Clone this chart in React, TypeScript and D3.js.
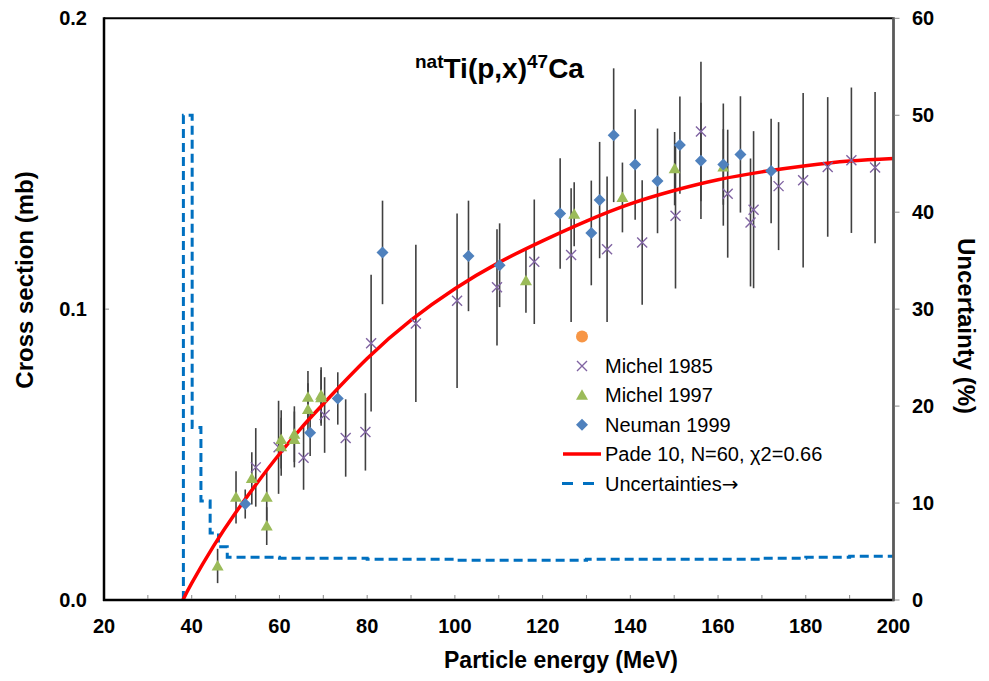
import React from 'react';
import * as d3 from 'd3';

// ---- data ----
const xTicks = [20, 40, 60, 80, 100, 120, 140, 160, 180, 200];
const xMinorTicks = [30, 50, 70, 90, 110, 130, 150, 170, 190];
const yTicks = [0, 0.1, 0.2];
const yTickLabels = ['0.0', '0.1', '0.2'];
const y2Ticks = [0, 10, 20, 30, 40, 50, 60];

// [energy MeV, cross section mb, error mb]
const michel1985: [number, number, number][] = [
  [54.6, 0.0456, 0.0135], [59.8, 0.0525, 0.016], [65.5, 0.0489, 0.011], [70.3, 0.0636, 0.013],
  [75.1, 0.0557, 0.0133], [79.6, 0.0578, 0.0133], [80.9, 0.0883, 0.0235], [91.1, 0.0951, 0.027],
  [100.5, 0.1029, 0.030], [109.6, 0.1075, 0.020], [118.1, 0.1163, 0.0214], [126.5, 0.1186, 0.023],
  [134.7, 0.1206, 0.025], [142.7, 0.1229, 0.0214], [150.3, 0.1321, 0.025], [156.1, 0.1611, 0.024],
  [162.2, 0.1397, 0.022], [167.4, 0.1298, 0.022], [168.1, 0.1342, 0.027], [173.8, 0.1423, 0.022],
  [179.4, 0.1443, 0.030], [185.0, 0.1489, 0.024], [190.4, 0.1512, 0.025], [195.8, 0.1487, 0.026],
];

const michel1997: [number, number, number][] = [
  [45.9, 0.0117, 0.0059], [50.1, 0.0353, 0.009], [53.7, 0.0418, 0.009], [57.1, 0.0353, 0.0088],
  [57.1, 0.0254, 0.0065], [60.4, 0.0552, 0.010], [60.4, 0.0527, 0.010], [63.4, 0.057, 0.0096],
  [63.4, 0.0552, 0.0096], [66.5, 0.0697, 0.009], [66.5, 0.0655, 0.009], [69.5, 0.0704, 0.0096],
  [69.5, 0.0695, 0.0096], [116.2, 0.1098, 0.011], [127.2, 0.1326, 0.011], [138.2, 0.1384, 0.012],
  [150.1, 0.1483, 0.0126], [161.2, 0.1489, 0.013],
];

const neuman1999: [number, number, number][] = [
  [52.2, 0.033, 0.005], [67.0, 0.0575, 0.008], [73.3, 0.0693, 0.009], [83.5, 0.1195, 0.0178],
  [103.1, 0.1183, 0.019], [110.2, 0.1151, 0.0144], [124.0, 0.1329, 0.019], [131.1, 0.1262, 0.018],
  [133.0, 0.1375, 0.020], [136.2, 0.1598, 0.023], [141.1, 0.1497, 0.019], [146.2, 0.1441, 0.018],
  [151.3, 0.1564, 0.0167], [156.1, 0.151, 0.020], [161.2, 0.1497, 0.021], [165.1, 0.1532, 0.020],
  [172.1, 0.1475, 0.018],
];

const padeE = [38, 40, 45, 50, 55, 60, 65, 70, 80, 90, 100, 110, 120, 130, 140, 150, 160, 170, 180, 190, 200];
const padeSigma = [0, 0.0058, 0.0186, 0.0300, 0.0404, 0.0502, 0.0592, 0.0674, 0.0830, 0.0962, 0.1070, 0.1160,
  0.1235, 0.1303, 0.1362, 0.1408, 0.1445, 0.1472, 0.1493, 0.1509, 0.1518];

const uncE = [38.1, 38.1, 40.1, 42.1, 44.2, 46.1, 48.1, 60, 80, 100, 130, 160, 170, 180, 190, 200];
const uncPct = [0, 50, 17.8, 10.2, 6.9, 5.5, 4.4, 4.3, 4.2, 4.1, 4.2, 4.2, 4.3, 4.4, 4.5, 4.5];

const legendLabels = ['', 'Michel 1985', 'Michel 1997', 'Neuman 1999', 'Pade 10, N=60, \u03C72=0.66', 'Uncertainties'];

const FONT = 'Liberation Sans, Arial, Helvetica, sans-serif';
const C_X = '#8064A2';
const C_TRI = '#9BBB59';
const C_DIA = '#4F81BD';
const C_ORANGE = '#F79646';
const C_RED = '#FF0000';
const C_BLUE = '#0070C0';
const C_ERR = '#404040';

const crossPath = 'M-5,-5L5,5M-5,5L5,-5';
const triPath = 'M0,-6L6,4.5L-6,4.5Z';
const diaPath = 'M0,-6L6,0L0,6L-6,0Z';

export default function App() {
  const W = 989, H = 681;
  const x = d3.scaleLinear().domain([20, 200]).range([104, 893.5]);
  const y = d3.scaleLinear().domain([0, 0.2]).range([600, 18.3]);
  const y2 = d3.scaleLinear().domain([0, 60]).range([600, 18.3]);

  const fitLine = d3.line<number>()
    .x((_, i) => x(padeE[i]))
    .y((_, i) => y(padeSigma[i]))
    .curve(d3.curveNatural);
  const uncLine = d3.line<number>()
    .x((_, i) => x(uncE[i]))
    .y((_, i) => y2(uncPct[i]))
    .curve(d3.curveStepAfter);

  const allSeries = [michel1985, michel1997, neuman1999];
  const x0 = x(20), x1 = x(200), yb = y(0), yt = y(0.2);

  const legendX = 582;
  const legendY0 = 336.5;
  const legendDY = 29.4;

  return (
    <svg width={W} height={H} style={{ position: 'absolute', left: 0, top: 0, background: '#fff' }}
      fontFamily={FONT}>
      <rect x={0} y={0} width={W} height={H} fill="#fff" />

      {/* error bars */}
      {allSeries.map((s, si) => (
        <g key={'eb' + si}>
          {s.map((d, i) => (
            <line key={i} x1={x(d[0])} x2={x(d[0])} y1={y(d[1] - d[2])} y2={y(d[1] + d[2])}
              stroke={C_ERR} strokeWidth={1.6} />
          ))}
        </g>
      ))}

      {/* uncertainty dashed line */}
      <path d={uncLine(uncE) || ''} fill="none" stroke={C_BLUE} strokeWidth={3} strokeDasharray="9 5" />

      {/* fit line */}
      <path d={fitLine(padeE) || ''} fill="none" stroke={C_RED} strokeWidth={3.5} strokeLinejoin="round" />

      {/* markers */}
      {michel1985.map((d, i) => (
        <path key={'x' + i} d={crossPath} transform={`translate(${x(d[0])},${y(d[1])})`}
          fill="none" stroke={C_X} strokeWidth={1.4} />
      ))}
      {michel1997.map((d, i) => (
        <path key={'t' + i} d={triPath} transform={`translate(${x(d[0])},${y(d[1])})`} fill={C_TRI} />
      ))}
      {neuman1999.map((d, i) => (
        <path key={'d' + i} d={diaPath} transform={`translate(${x(d[0])},${y(d[1])})`} fill={C_DIA} />
      ))}

      {/* frame & axes */}
      <line x1={x0} x2={x1} y1={yt} y2={yt} stroke="#000" strokeWidth={2} />
      <line x1={x0} x2={x0} y1={yt - 1} y2={yb + 1} stroke="#000" strokeWidth={2.5} />
      <line x1={x0 - 1} x2={x1 + 1} y1={yb} y2={yb} stroke="#000" strokeWidth={2.5} />
      <line x1={x1} x2={x1} y1={yt - 1} y2={yb + 1} stroke="#5a5a5a" strokeWidth={2.8} />

      {/* x minor ticks (inside) */}
      {xMinorTicks.concat(xTicks.slice(1, -1)).map((t) => (
        <line key={'xm' + t} x1={x(t)} x2={x(t)} y1={yb - 1} y2={yb - 5} stroke="#888" strokeWidth={1} />
      ))}
      {/* left tick at 0.1 */}
      <line x1={x0 + 1} x2={x0 + 5} y1={y(0.1)} y2={y(0.1)} stroke="#888" strokeWidth={1} />
      {/* right ticks outward */}
      {y2Ticks.map((t) => (
        <line key={'rt' + t} x1={x1 + 1} x2={x1 + 6} y1={y2(t)} y2={y2(t)} stroke="#888" strokeWidth={1} />
      ))}

      {/* tick labels */}
      {xTicks.map((t) => (
        <text key={'xl' + t} x={x(t)} y={633} textAnchor="middle" fontSize={20} fontWeight="bold" fill="#000">{t}</text>
      ))}
      {yTicks.map((t, i) => (
        <text key={'yl' + t} x={87} y={y(t) + 7} textAnchor="end" fontSize={20} fontWeight="bold" fill="#000">{yTickLabels[i]}</text>
      ))}
      {y2Ticks.map((t) => (
        <text key={'y2l' + t} x={912} y={y2(t) + 7} textAnchor="start" fontSize={20} fontWeight="bold" fill="#000">{t}</text>
      ))}

      {/* axis titles */}
      <text x={561} y={668} textAnchor="middle" fontSize={23} fontWeight="bold" fill="#000">Particle energy (MeV)</text>
      <text transform="translate(32.5,280) rotate(-90)" textAnchor="middle" fontSize={24} fontWeight="bold" fill="#000">Cross section (mb)</text>
      <text transform="translate(958,326) rotate(90)" textAnchor="middle" fontSize={24} fontWeight="bold" fill="#000">Uncertainty (%)</text>

      {/* chart title */}
      <text x={415} y={78} fontWeight="bold" fill="#000" fontSize={28}>
        <tspan fontSize={19} dy={-10}>nat</tspan>
        <tspan dy={10}>Ti(p,x)</tspan>
        <tspan fontSize={19} dy={-10}>47</tspan>
        <tspan dy={10}>Ca</tspan>
      </text>

      {/* legend */}
      <g>
        <circle cx={legendX} cy={legendY0} r={6} fill={C_ORANGE} />
        <path d={crossPath} transform={`translate(${legendX},${legendY0 + legendDY})`} fill="none" stroke={C_X} strokeWidth={1.4} />
        <path d={triPath} transform={`translate(${legendX},${legendY0 + 2 * legendDY})`} fill={C_TRI} />
        <path d={diaPath} transform={`translate(${legendX},${legendY0 + 3 * legendDY})`} fill={C_DIA} />
        <line x1={563} x2={601} y1={legendY0 + 4 * legendDY} y2={legendY0 + 4 * legendDY} stroke={C_RED} strokeWidth={3.5} />
        <line x1={562} x2={601} y1={legendY0 + 5 * legendDY} y2={legendY0 + 5 * legendDY} stroke={C_BLUE} strokeWidth={3} strokeDasharray="11 10" />
        {legendLabels.map((l, i) => (
          <text key={'lg' + i} x={605} y={legendY0 + i * legendDY + 7} fontSize={20} fill="#000">
            {l}
            {i === 5 ? <tspan fontFamily="DejaVu Sans" fontSize={20}>{'\u2192'}</tspan> : null}
          </text>
        ))}
      </g>
    </svg>
  );
}
